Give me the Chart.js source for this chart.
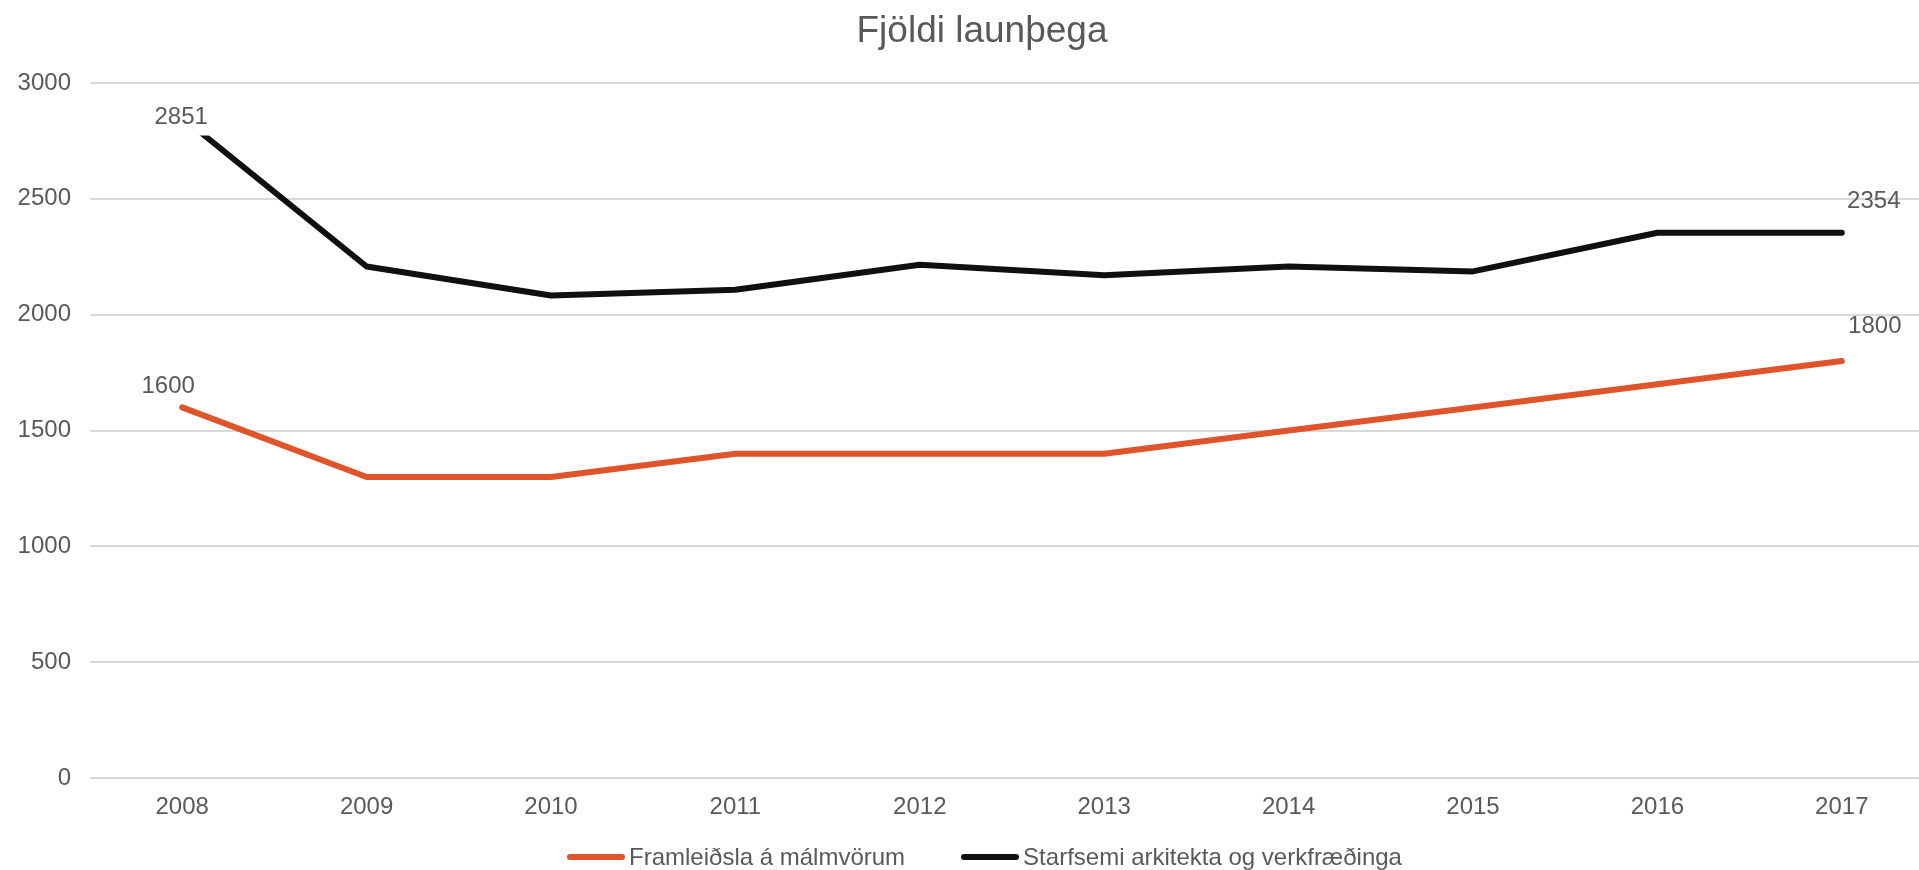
<!DOCTYPE html>
<html>
<head>
<meta charset="utf-8">
<script src="https://cdn.jsdelivr.net/npm/chart.js@4.4.1/dist/chart.umd.min.js"></script>
<style>
  html, body { margin: 0; padding: 0; background: #fff; overflow: hidden; }
  #wrap { position: relative; width: 1966px; height: 870px; }
  #title {
    position: absolute; left: 0; width: 1964px; top: 9px; height: 44px; line-height: 44px;
    text-align: center; font: 37px "Liberation Sans", Arial, sans-serif; color: #595959;
  }
  #legend {
    position: absolute; left: 0; width: 1969px; top: 842px; height: 30px;
    display: flex; justify-content: center; align-items: center;
    font: 24px "Liberation Sans", Arial, sans-serif; color: #595959;
  }
  #legend .item { display: flex; align-items: center; margin: 0 28px; }
  #legend .swatch { width: 58px; height: 6px; border-radius: 3px; margin-right: 4px; flex: none; }
</style>
</head>
<body>
<div id="wrap">
  <canvas id="chart"></canvas>
  <div id="title">Fjöldi launþega</div>
  <div id="legend"></div>
</div>
<script>
// chart data
const years = ['2008', '2009', '2010', '2011', '2012', '2013', '2014', '2015', '2016', '2017'];
const malmvorur = [1600, 1300, 1300, 1400, 1400, 1400, 1500, 1600, 1700, 1800];
const arkitektar = [2851, 2208, 2083, 2108, 2216, 2170, 2208, 2187, 2354, 2354];
const yTicks = [0, 500, 1000, 1500, 2000, 2500, 3000];

const textColor = '#595959';
const fontFamily = '"Liberation Sans", Arial, sans-serif';

// value labels on first and last point, Excel style
const valueLabels = {
    id: 'valueLabels',
    afterDatasetsDraw(chart, args, opts) {
        const ctx = chart.ctx;
        ctx.save();
        ctx.font = '24px ' + fontFamily;
        ctx.textAlign = 'center';
        ctx.textBaseline = 'middle';
        opts.items.forEach(item => {
            const el = chart.getDatasetMeta(item.dataset).data[item.index];
            const value = chart.data.datasets[item.dataset].data[item.index];
            const x = el.x + item.dx;
            const y = el.y + item.dy;
            const txt = String(value);
            if (item.bg) {
                const w = ctx.measureText(txt).width + 6;
                ctx.fillStyle = '#ffffff';
                ctx.fillRect(x - w / 2, y - 18, w, 36);
            }
            ctx.fillStyle = textColor;
            ctx.fillText(txt, x, y);
        });
        ctx.restore();
    }
};

const chart = new Chart(document.getElementById('chart').getContext('2d'), {
    type: 'line',
    data: {
        labels: years,
        datasets: [{
            label: 'Framleiðsla á málmvörum',
            data: malmvorur,
            borderColor: '#E0542A',
            backgroundColor: '#E0542A',
            borderWidth: 6,
            pointRadius: 0,
            borderCapStyle: 'round',
            borderJoinStyle: 'round',
            tension: 0
        }, {
            label: 'Starfsemi arkitekta og verkfræðinga',
            data: arkitektar,
            borderColor: '#101010',
            backgroundColor: '#101010',
            borderWidth: 6,
            pointRadius: 0,
            borderCapStyle: 'round',
            borderJoinStyle: 'round',
            tension: 0
        }]
    },
    options: {
        responsive: true,
        maintainAspectRatio: false,
        animation: false,
        layout: {
            autoPadding: false,
            padding: { left: 0, right: 32, top: 83, bottom: 33 }
        },
        scales: {
            x: {
                offset: true,
                grid: { display: false, drawTicks: false },
                border: { display: false },
                ticks: {
                    color: textColor,
                    font: { family: fontFamily, size: 24 },
                    padding: 15
                }
            },
            y: {
                min: 0,
                max: 3000,
                afterBuildTicks: axis => {
                    axis.ticks = yTicks.map(v => ({ value: v }));
                },
                afterFit: axis => { axis.width = 90; },
                grid: { color: '#d9d9d9', lineWidth: 2, drawTicks: false },
                border: { display: false },
                ticks: {
                    color: textColor,
                    font: { family: fontFamily, size: 24 },
                    padding: 19,
                    callback: v => String(v)
                }
            }
        },
        plugins: {
            title: { display: false },
            legend: { display: false },
            tooltip: { enabled: false },
            valueLabels: {
                items: [
                    { dataset: 1, index: 0, dx: -1, dy: 0, bg: true },
                    { dataset: 0, index: 0, dx: -14, dy: -21 },
                    { dataset: 1, index: 9, dx: 32, dy: -31 },
                    { dataset: 0, index: 9, dx: 33, dy: -35 }
                ]
            }
        }
    },
    plugins: [valueLabels]
});

// html legend under the chart
const legendEl = document.getElementById('legend');
chart.data.datasets.forEach(ds => {
    const item = document.createElement('div');
    item.className = 'item';
    const sw = document.createElement('span');
    sw.className = 'swatch';
    sw.style.background = ds.borderColor;
    const txt = document.createElement('span');
    txt.textContent = ds.label;
    item.appendChild(sw);
    item.appendChild(txt);
    legendEl.appendChild(item);
});
</script>
</body>
</html>
